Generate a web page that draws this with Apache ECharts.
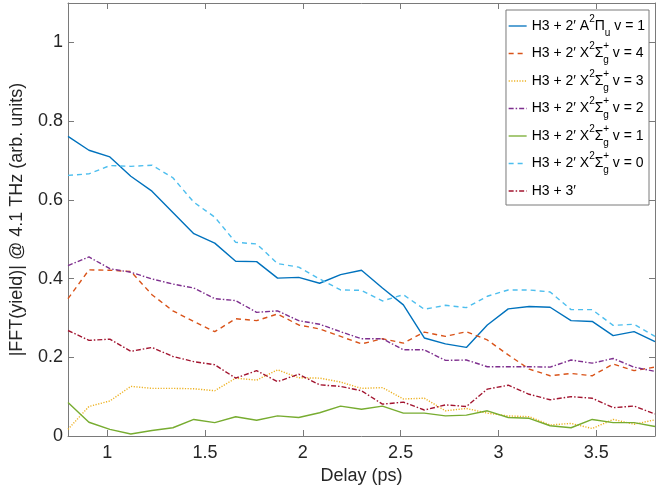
<!DOCTYPE html>
<html><head><meta charset="utf-8">
<script src="https://cdn.jsdelivr.net/npm/echarts@6/dist/echarts.min.js"></script>
<style>html,body{margin:0;padding:0;background:#fff}#c{width:669px;height:491px}</style>
</head><body><div id="c"></div>
<script>
var delay = [0.8, 0.907, 1.014, 1.121, 1.229, 1.336, 1.443, 1.55, 1.657, 1.764, 1.871, 1.979, 2.086, 2.193, 2.3, 2.407, 2.514, 2.621, 2.729, 2.836, 2.943, 3.05, 3.157, 3.264, 3.371, 3.479, 3.586, 3.693, 3.8];
var aPiV1 = [0.761, 0.726, 0.709, 0.66, 0.622, 0.568, 0.514, 0.49, 0.444, 0.443, 0.401, 0.403, 0.388, 0.41, 0.421, 0.376, 0.333, 0.249, 0.234, 0.225, 0.282, 0.323, 0.329, 0.327, 0.293, 0.291, 0.255, 0.265, 0.24];
var xV4 = [0.349, 0.422, 0.421, 0.418, 0.359, 0.318, 0.291, 0.265, 0.298, 0.293, 0.31, 0.282, 0.272, 0.253, 0.234, 0.247, 0.236, 0.264, 0.253, 0.265, 0.244, 0.206, 0.17, 0.153, 0.159, 0.153, 0.183, 0.166, 0.175];
var xV3 = [0.017, 0.075, 0.089, 0.126, 0.121, 0.121, 0.12, 0.115, 0.147, 0.142, 0.168, 0.148, 0.147, 0.137, 0.121, 0.123, 0.094, 0.096, 0.064, 0.07, 0.058, 0.051, 0.049, 0.028, 0.032, 0.019, 0.042, 0.03, 0.041];
var xV2 = [0.433, 0.455, 0.425, 0.416, 0.399, 0.386, 0.376, 0.349, 0.344, 0.314, 0.318, 0.293, 0.284, 0.265, 0.247, 0.247, 0.219, 0.219, 0.192, 0.193, 0.176, 0.176, 0.176, 0.175, 0.193, 0.185, 0.197, 0.175, 0.164];
var xV1 = [0.085, 0.035, 0.017, 0.005, 0.014, 0.021, 0.042, 0.034, 0.049, 0.04, 0.051, 0.047, 0.059, 0.076, 0.068, 0.076, 0.058, 0.058, 0.051, 0.053, 0.064, 0.047, 0.045, 0.026, 0.021, 0.042, 0.034, 0.034, 0.024];
var xV0 = [0.662, 0.666, 0.687, 0.685, 0.688, 0.656, 0.594, 0.556, 0.492, 0.488, 0.438, 0.429, 0.399, 0.371, 0.37, 0.343, 0.359, 0.322, 0.332, 0.326, 0.355, 0.371, 0.371, 0.366, 0.321, 0.321, 0.281, 0.284, 0.253];
var h3p3 = [0.268, 0.243, 0.246, 0.215, 0.225, 0.202, 0.189, 0.181, 0.147, 0.166, 0.138, 0.157, 0.13, 0.126, 0.115, 0.081, 0.086, 0.066, 0.079, 0.075, 0.119, 0.129, 0.106, 0.092, 0.1, 0.096, 0.072, 0.076, 0.056];
var xTicks = [1, 1.5, 2, 2.5, 3, 3.5];
var yTicks = [0, 0.2, 0.4, 0.6, 0.8, 1];

var seriesDefs = [
  {name: 'A1', label: 'H3 + 2′ A{sup|2}Π{sub|u} v = 1', data: aPiV1, color: '#0072BD', type: 'solid'},
  {name: 'X4', label: 'H3 + 2′ X{sup|2}Σ{sp|+}{sub|g} v = 4', data: xV4, color: '#D95319', type: [5, 4]},
  {name: 'X3', label: 'H3 + 2′ X{sup|2}Σ{sp|+}{sub|g} v = 3', data: xV3, color: '#EDB120', type: [1.2, 1.5]},
  {name: 'X2', label: 'H3 + 2′ X{sup|2}Σ{sp|+}{sub|g} v = 2', data: xV2, color: '#7E2F8E', type: [5, 2, 1.5, 2]},
  {name: 'X1', label: 'H3 + 2′ X{sup|2}Σ{sp|+}{sub|g} v = 1', data: xV1, color: '#77AC30', type: 'solid'},
  {name: 'X0', label: 'H3 + 2′ X{sup|2}Σ{sp|+}{sub|g} v = 0', data: xV0, color: '#4DBEEE', type: [5, 4]},
  {name: 'H3', label: 'H3 + 3′', data: h3p3, color: '#A2142F', type: [5, 2, 1.5, 2]}
];
var labelMap = {};
seriesDefs.forEach(function (s) { labelMap[s.name] = s.label; });

var font = 'Liberation Sans';
var axisColor = '#7a7a7a';
var textColor = '#262626';

var chart = echarts.init(document.getElementById('c'));
chart.setOption({
  animation: false,
  textStyle: {fontFamily: font},
  grid: {left: 66, right: 14, top: 3, bottom: 55, containLabel: false},
  legend: {
    orient: 'vertical', right: 20, top: 10,
    backgroundColor: '#fff', borderColor: '#7a7a7a', borderWidth: 1,
    padding: [4, 4, 2, 2], itemGap: 3.5, itemWidth: 18, itemHeight: 10,
    itemStyle: {color: 'transparent', borderColor: 'transparent', borderWidth: 0, opacity: 0},
    lineStyle: {width: 1.3},
    formatter: function (n) { return labelMap[n]; },
    textStyle: {
      fontFamily: font, fontSize: 14, color: '#000', lineHeight: 24,
      rich: {
        sup: {fontFamily: font, fontSize: 10, verticalAlign: 'top', lineHeight: 24, padding: [0, 0, 8, 0]},
        sp: {fontFamily: font, fontSize: 10, verticalAlign: 'top', width: 0, align: 'left', lineHeight: 24, padding: [0, 0, 8, 0]},
        sub: {fontFamily: font, fontSize: 10, verticalAlign: 'bottom', lineHeight: 24, padding: [8, 0, 0, 0]}
      }
    },
    data: seriesDefs.map(function (s) { return s.name; })
  },
  xAxis: [{
    type: 'value', min: 0.8, max: 3.8, position: 'bottom',
    name: 'Delay (ps)', nameLocation: 'middle', nameGap: 26,
    nameTextStyle: {fontFamily: font, fontSize: 18, color: textColor},
    axisLine: {show: true, onZero: false, lineStyle: {color: axisColor, width: 1}},
    axisTick: {show: true, inside: true, length: 6, customValues: xTicks, lineStyle: {color: axisColor}},
    axisLabel: {customValues: xTicks, fontFamily: font, fontSize: 18, color: textColor, margin: 8,
      formatter: function (v) { return String(v); }},
    splitLine: {show: false}
  }, {
    type: 'value', min: 0.8, max: 3.8, position: 'top',
    axisLine: {show: true, onZero: false, lineStyle: {color: axisColor, width: 1}},
    axisTick: {show: true, inside: true, length: 6, customValues: xTicks, lineStyle: {color: axisColor}},
    axisLabel: {show: false}, splitLine: {show: false}
  }],
  yAxis: [{
    type: 'value', min: 0, max: 1.1, position: 'left',
    name: '|FFT(yield)| @ 4.1 THz (arb. units)', nameLocation: 'middle', nameGap: 42,
    nameTextStyle: {fontFamily: font, fontSize: 18, color: textColor},
    axisLine: {show: true, onZero: false, lineStyle: {color: axisColor, width: 1}},
    axisTick: {show: true, inside: true, length: 6, customValues: yTicks, lineStyle: {color: axisColor}},
    axisLabel: {customValues: yTicks, fontFamily: font, fontSize: 18, color: textColor, margin: 5,
      formatter: function (v) { return String(v); }},
    splitLine: {show: false}
  }, {
    type: 'value', min: 0, max: 1.1, position: 'right',
    axisLine: {show: true, onZero: false, lineStyle: {color: axisColor, width: 1}},
    axisTick: {show: true, inside: true, length: 6, customValues: yTicks, lineStyle: {color: axisColor}},
    axisLabel: {show: false}, splitLine: {show: false}
  }],
  series: seriesDefs.map(function (s) {
    return {
      name: s.name, type: 'line', showSymbol: false, symbol: 'none',
      xAxisIndex: 0, yAxisIndex: 0,
      data: delay.map(function (d, i) { return [d, s.data[i]]; }),
      lineStyle: {color: s.color, width: 1.4, type: s.type},
      itemStyle: {color: s.color},
      emphasis: {disabled: true}
    };
  })
});
</script></body></html>
